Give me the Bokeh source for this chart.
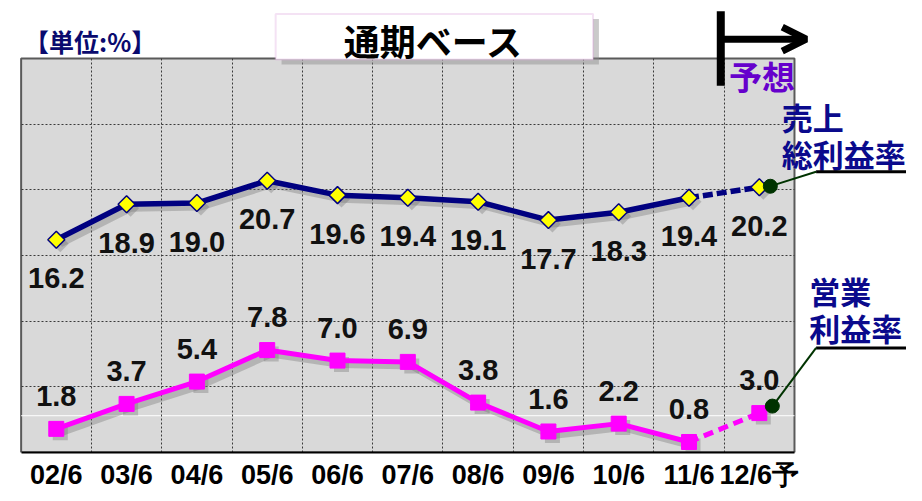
from bokeh.plotting import figure
from bokeh.models import Range1d, FixedTicker, Grid, Label, Arrow, OpenHead, BoxAnnotation
from bokeh.core.properties import value
from bokeh.embed import file_html
from bokeh.resources import INLINE

# ---- data ----
categories = ["02/6", "03/6", "04/6", "05/6", "06/6", "07/6", "08/6", "09/6", "10/6", "11/6", "12/6予"]
gross_margin = [16.2, 18.9, 19.0, 20.7, 19.6, 19.4, 19.1, 17.7, 18.3, 19.4, 20.2]
operating_margin = [1.8, 3.7, 5.4, 7.8, 7.0, 6.9, 3.8, 1.6, 2.2, 0.8, 3.0]
y_grid_values = [5, 10, 15, 20, 25]
y_max = 30

n = len(categories)
xs = [i + 0.5 for i in range(n)]

# ---- layout ----
W = 906
SX, SY = 906 / 922, 452 / 467            # reference px -> canvas px
CL, CR, CT, CB = 21 * SX, 808 * SX, 60 * SY, 467 * SY  # chart area on canvas
ppx = (CR - CL) / n
ppy = (CB - CT) / y_max


def dx(px):
    return (px * SX - CL) / ppx


def dy(py):
    return (CB - py * SY) / ppy


p = figure(frame_width=W, frame_height=round(CB),
           x_range=Range1d(-CL / ppx, (W - CL) / ppx), y_range=Range1d(0, CB / ppy),
           output_backend="svg", toolbar_location=None, y_axis_location=None,
           min_border_left=0, min_border_right=0, min_border_top=0, min_border_bottom=0)
p.background_fill_color = "white"
p.border_fill_color = "white"
p.outline_line_color = None

# chart area
p.quad(left=[0], right=[n], bottom=[0], top=[y_max], fill_color="#d9d9d9",
       line_color="#5a5a5a", line_width=2, level="image")

# axis
ax = p.xaxis[0]
ax.bounds = (0, n)
ax.ticker = FixedTicker(ticks=xs)
ax.major_label_overrides = {x: c for x, c in zip(xs, categories)}
ax.axis_line_color = "black"
ax.axis_line_width = 2
ax.major_tick_line_color = None
ax.minor_tick_line_color = None
ax.major_label_standoff = 1
ax.major_label_text_font = "Liberation Sans"
ax.major_label_text_font_style = "bold"
ax.major_label_text_font_size = "27px"
ax.major_label_text_color = "black"

# grids
p.grid.visible = False
p.add_layout(Grid(dimension=0, ticker=FixedTicker(ticks=list(range(1, n))), cross_bounds=(0, y_max),
                  grid_line_color="#3a3a3a", grid_line_dash="2 2", grid_line_width=1))
p.add_layout(Grid(dimension=1, ticker=FixedTicker(ticks=y_grid_values), cross_bounds=(0, n),
                  grid_line_color="#3a3a3a", grid_line_dash="2 2", grid_line_width=1))
p.segment(x0=[0], y0=[2.8], x1=[n], y1=[2.8], line_color="white", line_width=1, level="underlay")

# shadows
sdx, sdy = 4 / ppx, 4 / ppy
for series in (gross_margin, operating_margin):
    p.line([x + sdx for x in xs[:-1]], [v - sdy for v in series[:-1]],
           line_color="#6f6f6f", line_alpha=0.35, line_width=7)
p.scatter([x + sdx for x in xs], [v - sdy for v in operating_margin], marker="square", size=15,
          fill_color="#6f6f6f", fill_alpha=0.35, line_color=None)
p.scatter([x + sdx for x in xs], [v - sdy for v in gross_margin], marker="square", angle=0.785398, size=12,
          fill_color="#6f6f6f", fill_alpha=0.35, line_color=None)

# gross margin series
p.line(xs[:-1], gross_margin[:-1], line_color="#000080", line_width=5.5)
p.line(xs[-2:], gross_margin[-2:], line_color="#000080", line_width=5.5, line_dash="10 4")
p.scatter(xs, gross_margin, marker="square", angle=0.785398, size=12,
          fill_color="#ffff00", line_color="#000080", line_width=1.5)

# operating margin series
p.line(xs[:-1], operating_margin[:-1], line_color="#ff00ff", line_width=5)
p.line(xs[-2:], operating_margin[-2:], line_color="#ff00ff", line_width=5, line_dash="10 6")
p.scatter(xs, operating_margin, marker="square", size=15,
          fill_color="#ff00ff", line_color="#ff00ff")

# value labels
p.text(xs, gross_margin, text=[f"{v:.1f}" for v in gross_margin], y_offset=40 * SY,
       text_align="center", text_baseline="middle", text_font=value("Liberation Sans"),
       text_font_style="bold", text_font_size="29px", text_color="#111111")
p.text(xs, operating_margin, text=[f"{v:.1f}" for v in operating_margin], y_offset=-34 * SY,
       text_align="center", text_baseline="middle", text_font=value("Liberation Sans"),
       text_font_style="bold", text_font_size="29px", text_color="#111111")

# callout dots
p.scatter([xs[-1] + 11 / ppx], [gross_margin[-1] + 1 / ppy], marker="circle", size=14,
          fill_color="#003300", line_color="#003300")
p.scatter([xs[-1] + 13 / ppx], [operating_margin[-1] + 7 / ppy], marker="circle", size=14,
          fill_color="#003300", line_color="#003300")

CJK = "Noto Sans CJK JP"

# title box
p.add_layout(BoxAnnotation(left=dx(286), right=dx(609), top=dy(19), bottom=dy(66),
                           fill_color="#8a8a8a", fill_alpha=0.45, line_color=None, level="overlay"))
p.add_layout(BoxAnnotation(left=dx(280), right=dx(603), top=dy(14), bottom=dy(61),
                           fill_color="white", fill_alpha=1, line_color="#d9a0d9", line_width=2, level="overlay"))
p.add_layout(Label(x=dx(441), y=dy(41), text="通期ベース", text_align="center", text_baseline="middle",
                   text_font=CJK, text_font_style="bold", text_font_size="36px", text_color="black",
                   level="overlay"))

# unit
p.add_layout(Label(x=dx(24), y=dy(42), text="【単位:%】", text_align="left", text_baseline="middle",
                   text_font=CJK, text_font_style="bold", text_font_size="25px", text_color="#0a0a6e"))

# forecast arrow
p.add_layout(Arrow(end=None, x_start=dx(733), y_start=dy(11), x_end=dx(733), y_end=dy(88),
                   line_color="black", line_width=8))
p.add_layout(Arrow(end=OpenHead(size=24, line_width=7, line_color="black"),
                   x_start=dx(733), y_start=dy(40), x_end=dx(820), y_end=dy(40),
                   line_color="black", line_width=7))
p.add_layout(Label(x=dx(775), y=dy(78), text="予想", text_align="center", text_baseline="middle",
                   text_font=CJK, text_font_style="bold", text_font_size="33px", text_color="#6600cc"))

# series callouts
for txt, px, py in [("売上", 795, 120), ("総利益率", 795, 158), ("営業", 823, 300), ("利益率", 823, 338)]:
    p.add_layout(Label(x=dx(px), y=dy(py), text=txt, text_align="left", text_baseline="middle",
                       text_font=CJK, text_font_style="bold", text_font_size="31px", text_color="#0a0a8c"))

p.add_layout(Arrow(end=None, x_start=dx(830), y_start=dy(177), x_end=dx(922), y_end=dy(177),
                   line_color="black", line_width=3))
p.add_layout(Arrow(end=None, x_start=dx(830), y_start=dy(177), x_end=dx(786), y_end=dy(191),
                   line_color="#003300", line_width=2))
p.add_layout(Arrow(end=None, x_start=dx(830), y_start=dy(359), x_end=dx(922), y_end=dy(359),
                   line_color="black", line_width=3))
p.add_layout(Arrow(end=None, x_start=dx(830), y_start=dy(359), x_end=dx(788), y_end=dy(416),
                   line_color="#003300", line_width=2))

open("out.html", "w").write(file_html(p, INLINE))
